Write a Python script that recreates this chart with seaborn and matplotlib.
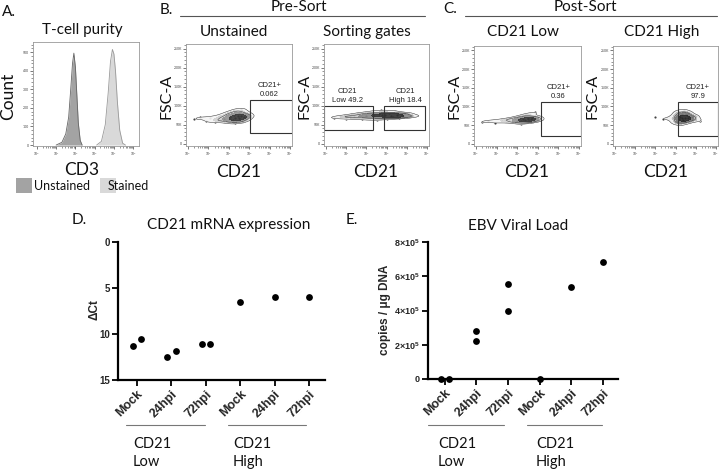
import numpy as np
import pandas as pd
import matplotlib
matplotlib.use("Agg")
import matplotlib.pyplot as plt
from matplotlib.patches import Rectangle
from matplotlib.ticker import MultipleLocator, FixedLocator
import seaborn as sns

# ---- data ----
# A: CD3 histograms (log10 CD3, count)
unst_x = [1.0, 1.3, 1.5, 1.65, 1.75, 1.85, 1.92, 2.0, 2.08, 2.15, 2.25, 2.35]
unst_y = [0, 15, 60, 150, 290, 440, 495, 420, 260, 120, 25, 0]
stain_x = [3.1, 3.35, 3.55, 3.7, 3.82, 3.92, 4.0, 4.08, 4.18, 4.3, 4.45, 4.6]
stain_y = [0, 20, 110, 280, 450, 515, 490, 400, 230, 80, 10, 0]

# B/C: estimated event positions (log10 CD21, FSC-A in K)
bunst_cd21 = [0.3, 0.6, 0.9, 1.1, 1.3, 1.5, 1.6, 1.75, 1.85, 1.95, 2.05, 2.1, 2.2, 2.25, 2.3,
              2.35, 2.4, 2.45, 2.5, 2.55, 2.6, 2.65, 2.7, 2.75, 2.8, 2.85, 2.9, 2.5, 2.3, 2.6]
bunst_fsc = [64, 70, 60, 68, 58, 72, 62, 66, 78, 58, 70, 82, 62, 75, 68,
             88, 60, 72, 80, 66, 74, 58, 85, 70, 64, 78, 72, 68, 55, 92]
sort_cd21 = [0.4, 0.7, 1.0, 1.2, 1.4, 1.6, 1.8, 1.9, 2.0, 2.2, 2.3, 2.4, 2.5, 2.6, 2.7,
             2.8, 2.9, 3.0, 3.1, 3.2, 3.3, 3.4, 3.5, 3.6, 3.7, 3.8, 3.9, 4.1, 4.3, 2.75]
sort_fsc = [68, 72, 66, 74, 70, 78, 64, 80, 72, 68, 84, 74, 62, 78, 88,
            70, 76, 66, 82, 74, 70, 86, 76, 68, 78, 72, 80, 70, 74, 76]
low_cd21 = [0.3, 0.6, 0.9, 1.2, 1.4, 1.6, 1.75, 1.9, 2.0, 2.1, 2.2, 2.3, 2.35, 2.4,
            2.5, 2.55, 2.6, 2.65, 2.7, 2.75, 2.8, 2.85, 2.9, 2.95, 2.5, 2.2, 2.7, 2.4]
low_fsc = [58, 62, 56, 64, 60, 66, 58, 68, 62, 72, 60, 66, 76, 58,
           70, 62, 80, 66, 58, 74, 64, 84, 68, 62, 66, 54, 70, 64]
high_cd21 = [2.0, 2.4, 2.8, 2.95, 3.0, 3.05, 3.1, 3.15, 3.2, 3.25, 3.3, 3.35, 3.4,
             3.45, 3.5, 3.55, 3.6, 3.65, 3.7, 3.8, 3.9, 4.0, 4.2, 3.3, 3.4, 3.5]
high_fsc = [72, 66, 70, 60, 78, 56, 86, 66, 72, 52, 80, 64, 90,
            70, 60, 76, 68, 84, 62, 72, 66, 74, 62, 70, 58, 80]

# D / E
groups = ["Mock", "24hpi", "72hpi", "Mock", "24hpi", "72hpi"]
d_cond = [0, 0, 1, 1, 2, 2, 3, 4, 5]
d_dct = [11.3, 10.5, 12.5, 11.9, 11.1, 11.1, 6.5, 6.0, 6.0]
e_cond = [0, 0, 1, 1, 2, 2, 3, 4, 5]
e_load = [0, 0, 2.78e5, 2.2e5, 5.53e5, 4.0e5, 0, 5.37e5, 6.86e5]

# ---- style ----
sns.set_theme(style="white")
plt.rcParams["font.family"] = ["Lato", "DejaVu Sans"]
plt.rcParams["mathtext.fontset"] = "custom"
plt.rcParams["mathtext.rm"] = "Liberation Sans"
plt.rcParams["mathtext.bf"] = "Liberation Sans:bold"

W, H = 720, 471
fig = plt.figure(figsize=(7.2, 4.71), dpi=100)


def px_axes(x0, y0, x1, y1):
    return fig.add_axes([x0 / W, 1 - y1 / H, (x1 - x0) / W, (y1 - y0) / H])


def log_xaxis(ax, xmin, xmax):
    ax.set_xlim(xmin, xmax)
    ax.set_xticks(range(6))
    ax.set_xticklabels([f"$10^{{{i}}}$" for i in range(6)])
    ax.xaxis.set_minor_locator(FixedLocator(
        [k + np.log10(m) for k in range(5) for m in range(2, 10)]))


def flow_frame(ax):
    ax.tick_params(which="major", labelsize=2.5, length=2, width=0.5, pad=1,
                   colors="#444", bottom=True, left=True)
    ax.tick_params(which="minor", length=1.2, width=0.4, colors="#444",
                   bottom=True, left=True)
    for s in ax.spines.values():
        s.set_linewidth(0.6)
        s.set_color("#999")


# ---- A: histogram ----
axA = px_axes(33, 42, 139, 146)
axA.fill_between(unst_x, unst_y, color="#a3a3a3", lw=0)
axA.fill_between(stain_x, stain_y, color="#d9d9d9", lw=0)
sns.lineplot(x=unst_x, y=unst_y, ax=axA, color="#666", lw=0.6, sort=False)
sns.lineplot(x=stain_x, y=stain_y, ax=axA, color="#999", lw=0.6, sort=False)
log_xaxis(axA, -0.2, 5.3)
axA.set_ylim(-5, 555)
axA.set_yticks(range(0, 600, 100))
axA.yaxis.set_minor_locator(MultipleLocator(20))
flow_frame(axA)


# ---- B / C: dot plots ----
def dot_plot(box, cd21, fsc, gates, labels):
    ax = px_axes(*box)
    sns.scatterplot(x=cd21, y=fsc, ax=ax, s=2.5, color="#444", linewidth=0,
                    legend=False)
    sns.kdeplot(x=cd21, y=fsc, ax=ax, fill=True, cmap="Greys", levels=5,
                thresh=0.22, bw_adjust=0.9, alpha=0.9)
    sns.kdeplot(x=cd21, y=fsc, ax=ax, color="#333", levels=[0.22, 0.5],
                bw_adjust=0.9, linewidths=0.35)
    for (gx0, gx1, gy0, gy1) in gates:
        ax.add_patch(Rectangle((gx0, gy0), gx1 - gx0, gy1 - gy0, fill=False,
                               ec="#333", lw=0.8))
    for (tx, ty, txt) in labels:
        ax.text(tx, ty, txt, ha="center", va="bottom", fontsize=5.5,
                family="Liberation Sans", linespacing=1.4, color="#222")
    log_xaxis(ax, -0.1, 5.1)
    ax.set_ylim(-6, 262)
    ax.set_yticks(range(0, 300, 50))
    ax.set_yticklabels(["0", "50K", "100K", "150K", "200K", "250K"])
    ax.yaxis.set_minor_locator(MultipleLocator(10))
    ax.set_xlabel("")
    ax.set_ylabel("")
    flow_frame(ax)
    return ax


dot_plot((186, 44, 292, 146), bunst_cd21, bunst_fsc,
         [(3.05, 5.1, 27, 115)], [(4.0, 120, "CD21+\n0.062")])
dot_plot((324, 44, 429, 146), sort_cd21, sort_fsc,
         [(-0.1, 2.32, 35, 100), (2.89, 4.9, 35, 100)],
         [(1.05, 104, "CD21\nLow 49.2"), (3.95, 104, "CD21\nHigh 18.4")])
dot_plot((474, 46, 581, 146), low_cd21, low_fsc,
         [(3.14, 5.1, 20, 113)], [(4.0, 118, "CD21+\n0.36")])
dot_plot((613, 46, 718, 146), high_cd21, high_fsc,
         [(3.1, 5.1, 20, 113)], [(4.1, 118, "CD21+\n97.9")])


# ---- D / E: scatter ----
def dodge(cond, vals, span):
    # spread replicate pairs side by side when their markers would overlap
    xs = []
    seen = {}
    for c, v in zip(cond, vals):
        mates = [vals[j] for j in range(len(cond)) if cond[j] == c]
        if len(mates) == 2 and abs(mates[0] - mates[1]) < 0.06 * span:
            k = seen.get(c, 0)
            xs.append(c - 0.12 if k == 0 else c + 0.12)
            seen[c] = k + 1
        else:
            xs.append(c)
    return xs


def prism_axes(ax):
    sns.despine(ax=ax)
    for s in ["left", "bottom"]:
        ax.spines[s].set_linewidth(1.6)
        ax.spines[s].set_color("black")
    ax.tick_params(axis="both", direction="out", length=4, width=1.3,
                   color="black", bottom=True, left=True, pad=2)
    ax.set_xticks(range(6))
    ax.set_xticklabels(groups, rotation=45, ha="right", rotation_mode="anchor",
                       fontweight="bold", fontsize=9, family="Liberation Sans")
    for lab in ax.get_yticklabels():
        lab.set_fontweight("bold")
        lab.set_family("Liberation Sans")
        lab.set_fontsize(7)


axD = px_axes(118, 242, 325, 380)
sns.scatterplot(x=dodge(d_cond, d_dct, 15), y=d_dct, ax=axD, color="black",
                s=24, linewidth=0, clip_on=False, legend=False)
axD.set_xlim(-0.55, 5.46)
axD.set_ylim(15, 0)
axD.set_yticks([0, 5, 10, 15])
prism_axes(axD)

axE = px_axes(428, 242, 618, 379)
sns.scatterplot(x=dodge(e_cond, e_load, 8e5), y=e_load, ax=axE, color="black",
                s=24, linewidth=0, clip_on=False, legend=False)
axE.set_xlim(-0.53, 5.48)
axE.set_ylim(0, 8e5)
axE.set_yticks([0, 2e5, 4e5, 6e5, 8e5])
axE.set_yticklabels(["0", r"$\mathbf{2{\times}10^5}$", r"$\mathbf{4{\times}10^5}$",
                     r"$\mathbf{6{\times}10^5}$", r"$\mathbf{8{\times}10^5}$"])
prism_axes(axE)
for lab in axE.get_yticklabels():
    lab.set_fontsize(6.5)

# ---- overlay text in pixel coordinates ----
ov = fig.add_axes([0, 0, 1, 1])
ov.set_xlim(0, W)
ov.set_ylim(H, 0)
ov.axis("off")


def txt(x, y, s, size, **kw):
    kw.setdefault("ha", "center")
    kw.setdefault("va", "center")
    ov.text(x, y, s, fontsize=size, color="#111", **kw)


# panel letters
txt(2, 12, "A.", 11, ha="left")
txt(160, 10, "B.", 11, ha="left")
txt(443, 9, "C.", 11, ha="left")
txt(72, 220, "D.", 11, ha="left")
txt(346, 220, "E.", 11, ha="left")

# top headers
txt(299, 7, "Pre-Sort", 11)
txt(585, 7, "Post-Sort", 11)
ov.plot([180, 425], [16, 16], color="#555", lw=0.8)
ov.plot([465, 717], [16, 16], color="#555", lw=0.8)

# subplot titles
txt(82, 30, "T-cell purity", 11)
txt(234, 32, "Unstained", 11)
txt(367, 32, "Sorting gates", 11)
txt(523, 32, "CD21 Low", 11)
txt(662, 32, "CD21 High", 11)

# axis labels of the flow plots
txt(8, 96, "Count", 12.5, rotation=90)
txt(82, 170, "CD3", 12.5)
for xl in [167, 304, 455, 593]:
    txt(xl, 96, "FSC-A", 11.5, rotation=90)
for xc in [239, 376, 527, 666]:
    txt(xc, 172, "CD21", 12.5)

# A legend
ov.add_patch(Rectangle((16, 178), 16, 15, color="#a3a3a3", lw=0))
ov.add_patch(Rectangle((100, 178), 16, 15, color="#d9d9d9", lw=0))
txt(34, 186, "Unstained", 9, ha="left")
txt(108, 186, "Stained", 9, ha="left")

# D / E titles and labels
txt(229, 225, "CD21 mRNA expression", 11)
txt(518, 226, "EBV Viral Load", 11)
ov.text(95, 310, "ΔCt", fontsize=8.5, fontweight="bold", family="Liberation Sans",
        rotation=90, ha="center", va="center")
ov.text(385, 310, "copies / μg DNA", fontsize=8.5, fontweight="bold",
        family="Liberation Sans", rotation=90, ha="center", va="center")

# group brackets
for (x0, x1, xt, lab) in [(126, 205, 133, "CD21\nLow"), (228, 306, 233, "CD21\nHigh"),
                          (428, 504, 438, "CD21\nLow"), (527, 602, 536, "CD21\nHigh")]:
    ov.plot([x0, x1], [425, 425], color="#777", lw=0.8)
    txt(xt, 453, lab, 10.5, ha="left", linespacing=1.35)

fig.savefig("out.png", dpi=100)
